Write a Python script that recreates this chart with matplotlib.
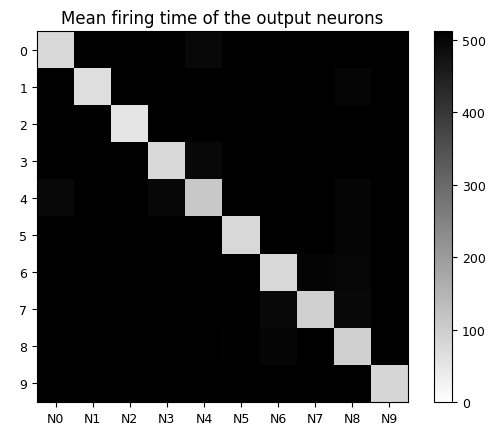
import numpy as np
import matplotlib
matplotlib.use("Agg")
import matplotlib.pyplot as plt

neurons = ["N0", "N1", "N2", "N3", "N4", "N5", "N6", "N7", "N8", "N9"]
digits = ["0", "1", "2", "3", "4", "5", "6", "7", "8", "9"]

row0 = [76, 512, 512, 512, 492, 512, 512, 512, 512, 512]
row1 = [512, 66, 512, 512, 512, 512, 512, 512, 500, 512]
row2 = [512, 512, 54, 512, 512, 512, 512, 512, 512, 512]
row3 = [512, 512, 512, 78, 492, 512, 506, 512, 512, 512]
row4 = [492, 512, 512, 496, 110, 512, 512, 512, 500, 512]
row5 = [512, 512, 512, 512, 512, 78, 508, 512, 500, 512]
row6 = [512, 512, 512, 512, 512, 508, 78, 502, 498, 512]
row7 = [512, 512, 512, 512, 512, 508, 492, 96, 494, 512]
row8 = [512, 512, 512, 512, 512, 506, 500, 512, 94, 512]
row9 = [512, 512, 512, 512, 512, 512, 512, 512, 512, 82]

data = np.array([row0, row1, row2, row3, row4, row5, row6, row7, row8, row9])

fig = plt.figure(figsize=(4.96, 4.27), dpi=100)
ax = fig.add_axes([37/496, 1 - 403/427, 371/496, 371/427])
cax = fig.add_axes([434/496, 1 - 403/427, 18/496, 371/427])

im = ax.imshow(data, cmap="gray_r", vmin=0, vmax=512, aspect="auto",
               interpolation="nearest")
ax.set_xticks(range(len(neurons)))
ax.set_xticklabels(neurons)
ax.set_yticks(range(len(digits)))
ax.set_yticklabels(digits)
ax.tick_params(labelsize=9)
ax.set_title("Mean firing time of the output neurons", fontsize=12)

cb = fig.colorbar(im, cax=cax)
cb.set_ticks([0, 100, 200, 300, 400, 500])
cb.ax.tick_params(labelsize=9)

fig.savefig("out.png", dpi=100)
